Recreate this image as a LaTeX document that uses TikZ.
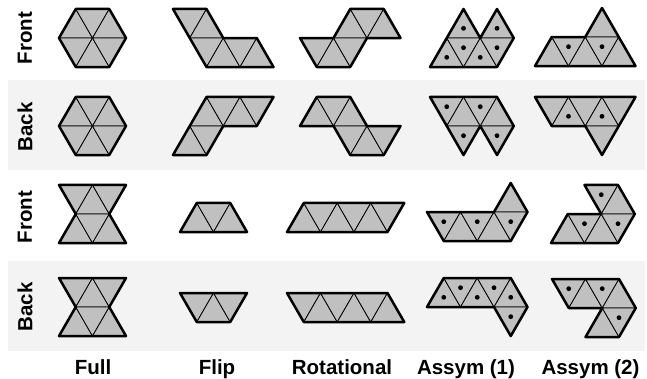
\documentclass[tikz,border=0pt]{standalone}
\usepackage{fontspec}
\setmainfont{Liberation Sans}
\definecolor{bandgray}{RGB}{243,243,243}
\definecolor{trigray}{RGB}{192,192,192}
\tikzset{
  tri/.style={fill=trigray,draw=black,line width=0.8pt,line join=round},
  outline/.style={draw=black,line width=2.5pt,line join=round},
  dotmark/.style={fill=black},
  lab/.style={font=\fontsize{20.5}{22}\selectfont\bfseries,inner sep=0pt},
  band/.style={fill=bandgray,draw=none}
}
\newcommand{\triup}[2]{\path[tri] (#1,#2+1) -- ++(2,0) -- ++(-1,-1) -- cycle;}
\newcommand{\tridn}[2]{\path[tri] (#1,#2) -- ++(2,0) -- ++(-1,1) -- cycle;}
\newcommand{\triupd}[2]{\triup{#1}{#2}\fill[dotmark] (#1+1,#2+2/3) circle[radius=2.4pt];}
\newcommand{\tridnd}[2]{\tridn{#1}{#2}\fill[dotmark] (#1+1,#2+1/3) circle[radius=2.4pt];}
\newenvironment{piece}[2]{\begin{scope}[shift={(#1pt,-#2pt)},x=16.75pt,y=-29.01pt]}{\end{scope}}
\begin{document}
\begin{tikzpicture}
\useasboundingbox (0,0) rectangle (647pt,-379pt);
\fill[band] (8pt,-80pt) rectangle (645pt,-170pt);
\fill[band] (8pt,-261pt) rectangle (645pt,-351pt);

% ---------- Row 1 (Front) ----------
\begin{piece}{59}{9}
\triup{0}{0}\tridn{1}{0}\triup{2}{0}\tridn{0}{1}\triup{1}{1}\tridn{2}{1}
\draw[outline] (1,0)--(3,0)--(4,1)--(3,2)--(1,2)--(0,1)--cycle;
\end{piece}
\begin{piece}{173}{9}
\tridn{0}{0}\triup{1}{0}\tridn{1}{1}\triup{2}{1}\tridn{3}{1}\triup{4}{1}
\draw[outline] (0,0)--(2,0)--(3,1)--(5,1)--(6,2)--(2,2)--cycle;
\end{piece}
\begin{piece}{300}{9}
\triup{2}{0}\tridn{3}{0}\triup{4}{0}\tridn{0}{1}\triup{1}{1}\tridn{2}{1}
\draw[outline] (0,1)--(2,1)--(3,0)--(5,0)--(6,1)--(4,1)--(3,2)--(1,2)--cycle;
\end{piece}
\begin{piece}{430}{9}
\triupd{1}{0}\triupd{3}{0}\triupd{0}{1}\tridnd{1}{1}\triupd{2}{1}\tridnd{3}{1}
\draw[outline] (0,2)--(2,0)--(3,1)--(4,0)--(5,1)--(4,2)--cycle;
\end{piece}
\begin{piece}{535}{8}
\triup{3}{0}\triup{0}{1}\tridnd{1}{1}\triup{2}{1}\tridnd{3}{1}\triup{4}{1}
\draw[outline] (0,2)--(1,1)--(3,1)--(4,0)--(6,2)--cycle;
\end{piece}

% ---------- Row 2 (Back) ----------
\begin{piece}{59}{97}
\triup{0}{0}\tridn{1}{0}\triup{2}{0}\tridn{0}{1}\triup{1}{1}\tridn{2}{1}
\draw[outline] (1,0)--(3,0)--(4,1)--(3,2)--(1,2)--(0,1)--cycle;
\end{piece}
\begin{piece}{173}{97}
\triup{1}{0}\tridn{2}{0}\triup{3}{0}\tridn{4}{0}\triup{0}{1}\tridn{1}{1}
\draw[outline] (2,0)--(6,0)--(5,1)--(3,1)--(2,2)--(0,2)--cycle;
\end{piece}
\begin{piece}{300}{97}
\triup{0}{0}\tridn{1}{0}\triup{2}{0}\tridn{2}{1}\triup{3}{1}\tridn{4}{1}
\draw[outline] (0,1)--(1,0)--(3,0)--(4,1)--(6,1)--(5,2)--(3,2)--(2,1)--cycle;
\end{piece}
\begin{piece}{430}{97}
\tridnd{0}{0}\triup{1}{0}\tridnd{2}{0}\triup{3}{0}\tridnd{1}{1}\tridnd{3}{1}
\draw[outline] (0,0)--(4,0)--(5,1)--(4,2)--(3,1)--(2,2)--cycle;
\end{piece}
\begin{piece}{535}{97}
\tridn{0}{0}\triupd{1}{0}\tridn{2}{0}\triupd{3}{0}\tridn{4}{0}\tridn{3}{1}
\draw[outline] (0,0)--(6,0)--(4,2)--(3,1)--(1,1)--cycle;
\end{piece}

% ---------- Row 3 (Front) ----------
\begin{piece}{59}{185}
\tridn{0}{0}\triup{1}{0}\tridn{2}{0}\triup{0}{1}\tridn{1}{1}\triup{2}{1}
\draw[outline] (0,0)--(4,0)--(3,1)--(4,2)--(0,2)--(1,1)--cycle;
\end{piece}
\begin{piece}{180}{203}
\triup{0}{0}\tridn{1}{0}\triup{2}{0}
\draw[outline] (0,1)--(1,0)--(3,0)--(4,1)--cycle;
\end{piece}
\begin{piece}{287}{203}
\triup{0}{0}\tridn{1}{0}\triup{2}{0}\tridn{3}{0}\triup{4}{0}\tridn{5}{0}
\draw[outline] (0,1)--(1,0)--(7,0)--(6,1)--cycle;
\end{piece}
\begin{piece}{427}{183}
\triup{4}{0}\tridnd{0}{1}\triup{1}{1}\tridnd{2}{1}\triup{3}{1}\tridnd{4}{1}
\draw[outline] (0,1)--(4,1)--(5,0)--(6,1)--(5,2)--(1,2)--cycle;
\end{piece}
\begin{piece}{551}{185}
\tridnd{2}{0}\triup{3}{0}\triup{0}{1}\tridnd{1}{1}\triup{2}{1}\tridnd{3}{1}
\draw[outline] (0,2)--(1,1)--(3,1)--(2,0)--(4,0)--(5,1)--(4,2)--cycle;
\end{piece}

% ---------- Row 4 (Back) ----------
\begin{piece}{59}{278}
\tridn{0}{0}\triup{1}{0}\tridn{2}{0}\triup{0}{1}\tridn{1}{1}\triup{2}{1}
\draw[outline] (0,0)--(4,0)--(3,1)--(4,2)--(0,2)--(1,1)--cycle;
\end{piece}
\begin{piece}{180}{293}
\tridn{0}{0}\triup{1}{0}\tridn{2}{0}
\draw[outline] (0,0)--(4,0)--(3,1)--(1,1)--cycle;
\end{piece}
\begin{piece}{287}{293}
\tridn{0}{0}\triup{1}{0}\tridn{2}{0}\triup{3}{0}\tridn{4}{0}\triup{5}{0}
\draw[outline] (0,0)--(6,0)--(7,1)--(1,1)--cycle;
\end{piece}
\begin{piece}{427}{278}
\triupd{0}{0}\tridnd{1}{0}\triupd{2}{0}\tridnd{3}{0}\triupd{4}{0}\tridnd{4}{1}
\draw[outline] (1,0)--(5,0)--(6,1)--(5,2)--(4,1)--(0,1)--cycle;
\end{piece}
\begin{piece}{552}{279}
\tridnd{0}{0}\triup{1}{0}\tridnd{2}{0}\triup{3}{0}\triup{2}{1}\tridnd{3}{1}
\draw[outline] (0,0)--(4,0)--(5,1)--(4,2)--(2,2)--(3,1)--(1,1)--cycle;
\end{piece}

% ---------- Labels ----------
\node[lab,rotate=90] (r1) at (25pt,-38pt) {Front};
\node[lab,rotate=90] (r2) at (25pt,-127pt) {Back};
\node[lab,rotate=90] (r3) at (25pt,-217pt) {Front};
\node[lab,rotate=90] (r4) at (25pt,-307pt) {Back};
\node[lab,anchor=base] (c1) at (93pt,-374pt) {Full};
\node[lab,anchor=base] (c2) at (217pt,-374pt) {Flip};
\node[lab,anchor=base] (c3) at (342pt,-374pt) {Rotational};
\node[lab,anchor=base] (c4) at (466pt,-374pt) {Assym (1)};
\node[lab,anchor=base] (c5) at (590.5pt,-374pt) {Assym (2)};
\end{tikzpicture}
\end{document}
